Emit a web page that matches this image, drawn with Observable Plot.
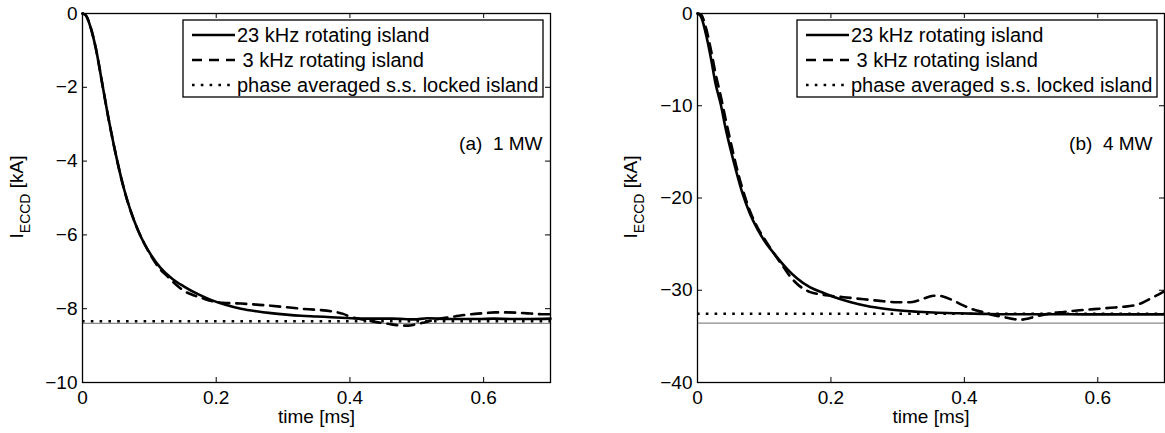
<!DOCTYPE html>
<html><head><meta charset="utf-8">
<script src="https://cdn.jsdelivr.net/npm/d3@7"></script>
<script src="https://cdn.jsdelivr.net/npm/@observablehq/plot@0.6"></script>
<style>
body{margin:0;background:#fff;}
#fig{position:relative;width:1165px;height:433px;font-family:"Liberation Sans",Arial,sans-serif;}
#fig svg{position:absolute;top:0;}
#fig text{white-space:pre;}
</style></head><body><div id="fig"></div>
<script>
// ---------- shared labels / ticks ----------
const legendLabels = ["23 kHz rotating island", " 3 kHz rotating island", "phase averaged s.s. locked island"];
const xTicks = [0, 0.2, 0.4, 0.6];
const xDomain = [0, 0.7];
const xLabel = "time [ms]";

// ---------- panel (a) 1 MW ----------
const tagA = "(a)  1 MW";
const yTicksA = [-10, -8, -6, -4, -2, 0];
const yDomainA = [-10, 0];
const tSolidA = [0, 0.005, 0.012, 0.02, 0.03, 0.04, 0.052, 0.062, 0.072, 0.082, 0.092, 0.102, 0.117, 0.135, 0.152, 0.172, 0.192, 0.215, 0.237, 0.26, 0.282, 0.305, 0.327, 0.35, 0.372, 0.395, 0.417, 0.44, 0.462, 0.48, 0.496, 0.516, 0.547, 0.57, 0.592, 0.615, 0.642, 0.67, 0.70];
const vSolidA = [0, -0.05, -0.37, -0.95, -1.95, -2.95, -4.0, -4.75, -5.35, -5.83, -6.22, -6.53, -6.9, -7.2, -7.4, -7.6, -7.76, -7.9, -8.0, -8.07, -8.12, -8.16, -8.19, -8.21, -8.23, -8.25, -8.27, -8.27, -8.27, -8.28, -8.29, -8.26, -8.28, -8.28, -8.28, -8.27, -8.28, -8.28, -8.27];
const tDashA = [0, 0.005, 0.012, 0.02, 0.03, 0.04, 0.052, 0.062, 0.072, 0.082, 0.092, 0.102, 0.117, 0.127, 0.14, 0.155, 0.167, 0.18, 0.195, 0.21, 0.237, 0.26, 0.282, 0.305, 0.327, 0.35, 0.372, 0.39, 0.402, 0.415, 0.427, 0.442, 0.457, 0.472, 0.487, 0.497, 0.507, 0.52, 0.532, 0.545, 0.557, 0.572, 0.587, 0.602, 0.617, 0.635, 0.652, 0.67, 0.687, 0.70];
const vDashA = [0, -0.05, -0.37, -0.95, -1.95, -2.95, -4.0, -4.75, -5.35, -5.83, -6.22, -6.55, -6.95, -7.12, -7.35, -7.55, -7.64, -7.72, -7.8, -7.84, -7.86, -7.89, -7.92, -7.96, -8.0, -8.03, -8.07, -8.14, -8.23, -8.28, -8.32, -8.37, -8.41, -8.45, -8.46, -8.43, -8.39, -8.33, -8.28, -8.24, -8.21, -8.17, -8.14, -8.12, -8.1, -8.1, -8.11, -8.13, -8.15, -8.15];
const lockedA = -8.34;
const refA = -8.40;

// ---------- panel (b) 4 MW ----------
const tagB = "(b)  4 MW";
const yTicksB = [-40, -30, -20, -10, 0];
const yDomainB = [-40, 0];
const tSolidB = [0, 0.005, 0.0125, 0.02, 0.027, 0.035, 0.042, 0.05, 0.058, 0.067, 0.078, 0.09, 0.1, 0.1145, 0.1346, 0.149, 0.169, 0.189, 0.209, 0.23, 0.254, 0.28, 0.304, 0.33, 0.354, 0.39, 0.428, 0.465, 0.503, 0.54, 0.578, 0.62, 0.66, 0.70];
const vSolidB = [0, -0.3, -2.2, -4.8, -7.6, -9.9, -12.4, -14.85, -17.1, -19.4, -21.6, -23.4, -24.6, -26.0, -27.7, -28.7, -29.7, -30.3, -30.85, -31.3, -31.7, -32.0, -32.2, -32.33, -32.42, -32.5, -32.56, -32.6, -32.6, -32.6, -32.61, -32.62, -32.62, -32.62];
const tDashB = [0, 0.005, 0.0125, 0.02, 0.027, 0.035, 0.042, 0.05, 0.058, 0.067, 0.078, 0.09, 0.1, 0.1145, 0.13, 0.14, 0.149, 0.159, 0.169, 0.184, 0.199, 0.219, 0.239, 0.259, 0.279, 0.299, 0.319, 0.329, 0.339, 0.347, 0.354, 0.362, 0.369, 0.38, 0.394, 0.41, 0.429, 0.444, 0.459, 0.472, 0.484, 0.494, 0.504, 0.516, 0.529, 0.549, 0.569, 0.594, 0.619, 0.637, 0.654, 0.667, 0.679, 0.69, 0.70];
const vDashB = [0, -0.1, -1.5, -3.9, -6.5, -9.0, -11.4, -14.0, -16.5, -18.9, -21.3, -23.2, -24.4, -26.0, -27.6, -28.6, -29.3, -29.85, -30.2, -30.45, -30.6, -30.75, -30.9, -31.05, -31.2, -31.3, -31.3, -31.15, -30.9, -30.7, -30.6, -30.6, -30.7, -31.0, -31.5, -32.0, -32.4, -32.7, -32.9, -33.1, -33.2, -33.1, -32.9, -32.7, -32.5, -32.35, -32.2, -32.05, -31.9, -31.8, -31.65, -31.35, -30.9, -30.5, -30.1];
const lockedB = -32.55;
const refB = -33.57;

const FONT = '"Liberation Sans", Arial, Helvetica, sans-serif';
const LW = 2.6;
const legendDash = [null, "10,7", "2.6,6.2"];

function makePanel(p) {
  const H = 433, mt = 13, mb = 51;
  const ih = H - mt - mb;
  const iw = p.width - p.ml - p.mr;
  const solid = p.tSolid.map((t, i) => ({t, v: p.vSolid[i]}));
  const dashed = p.tDash.map((t, i) => ({t, v: p.vDash[i]}));
  const svg = Plot.plot({
    width: p.width, height: H,
    marginLeft: p.ml, marginRight: p.mr, marginTop: mt, marginBottom: mb,
    style: {fontFamily: FONT, fontSize: "19px", color: "black", background: "white", overflow: "visible"},
    x: {domain: xDomain},
    y: {domain: p.yDomain},
    marks: [
      Plot.ruleY([p.ref], {stroke: "#8a8a8a", strokeWidth: 1.2}),
      Plot.ruleY([p.locked], {stroke: "black", strokeWidth: LW, strokeDasharray: "2.6,6.2"}),
      Plot.line(dashed, {x: "t", y: "v", stroke: "black", strokeWidth: LW, strokeDasharray: "10,7", curve: "monotone-x"}),
      Plot.line(solid, {x: "t", y: "v", stroke: "black", strokeWidth: LW, curve: "monotone-x"}),
      Plot.tickX(xTicks, {x: d => d, insetTop: ih - 5, stroke: "black", strokeWidth: 1}),
      Plot.tickX(xTicks, {x: d => d, insetBottom: ih - 5, stroke: "black", strokeWidth: 1}),
      Plot.tickY(p.yTicks, {y: d => d, insetRight: iw - 5, stroke: "black", strokeWidth: 1}),
      Plot.tickY(p.yTicks, {y: d => d, insetLeft: iw - 5, stroke: "black", strokeWidth: 1}),
      Plot.frame({stroke: "black", strokeWidth: 1.3}),
      Plot.axisX({ticks: xTicks, tickSize: 0, tickPadding: 8, label: null, fontSize: 19, tickFormat: d => String(d)}),
      Plot.axisY({ticks: p.yTicks, tickSize: 0, tickPadding: 5, label: null, fontSize: 19}),
      Plot.text([xLabel], {frameAnchor: "bottom", dy: 40, fontSize: 19, fill: "black"}),
      Plot.text([p.tag], {frameAnchor: "top-right", dx: p.tagDx, dy: 123, textAnchor: "end", fontSize: 19, fill: "black"})
    ]
  });
  const s = d3.select(svg);
  // legend
  const g = s.append("g").attr("font-size", 20).attr("font-family", FONT).attr("text-anchor", "start");
  g.append("rect").attr("x", p.legX).attr("y", 20).attr("width", 360).attr("height", 77)
    .attr("fill", "white").attr("stroke", "black").attr("stroke-width", 1.3);
  legendLabels.forEach((lab, i) => {
    const y = 35 + 25 * i;
    const ln = g.append("line").attr("x1", p.legX + 9).attr("x2", p.legX + 52).attr("y1", y).attr("y2", y)
      .attr("stroke", "black").attr("stroke-width", LW);
    if (legendDash[i]) ln.attr("stroke-dasharray", legendDash[i]);
    g.append("text").attr("x", p.legX + 54).attr("y", y).attr("dy", "0.35em").attr("fill", "black")
      .attr("text-anchor", "start").style("white-space", "pre").text(lab);
  });
  // y label with subscript
  const yl = s.append("text").attr("transform", `translate(${p.ylx},197) rotate(-90)`)
    .attr("text-anchor", "middle").attr("font-size", 19).attr("font-family", FONT).attr("fill", "black")
    .style("white-space", "pre");
  yl.append("tspan").text("I");
  yl.append("tspan").attr("dy", 7).attr("font-size", 14).text("ECCD");
  yl.append("tspan").attr("dy", -7).text(" [kA]");
  svg.style.left = p.left + "px";
  document.getElementById("fig").appendChild(svg);
}

makePanel({left: 0, width: 582, ml: 82, mr: 32, yDomain: yDomainA, yTicks: yTicksA,
  tSolid: tSolidA, vSolid: vSolidA, tDash: tDashA, vDash: vDashA, locked: lockedA, ref: refA,
  tag: tagA, tagDx: -8, legX: 183, ylx: 23});
makePanel({left: 582, width: 583, ml: 115, mr: 1, yDomain: yDomainB, yTicks: yTicksB,
  tSolid: tSolidB, vSolid: vSolidB, tDash: tDashB, vDash: vDashB, locked: lockedB, ref: refB,
  tag: tagB, tagDx: -12, legX: 215, ylx: 55});
</script></body></html>
